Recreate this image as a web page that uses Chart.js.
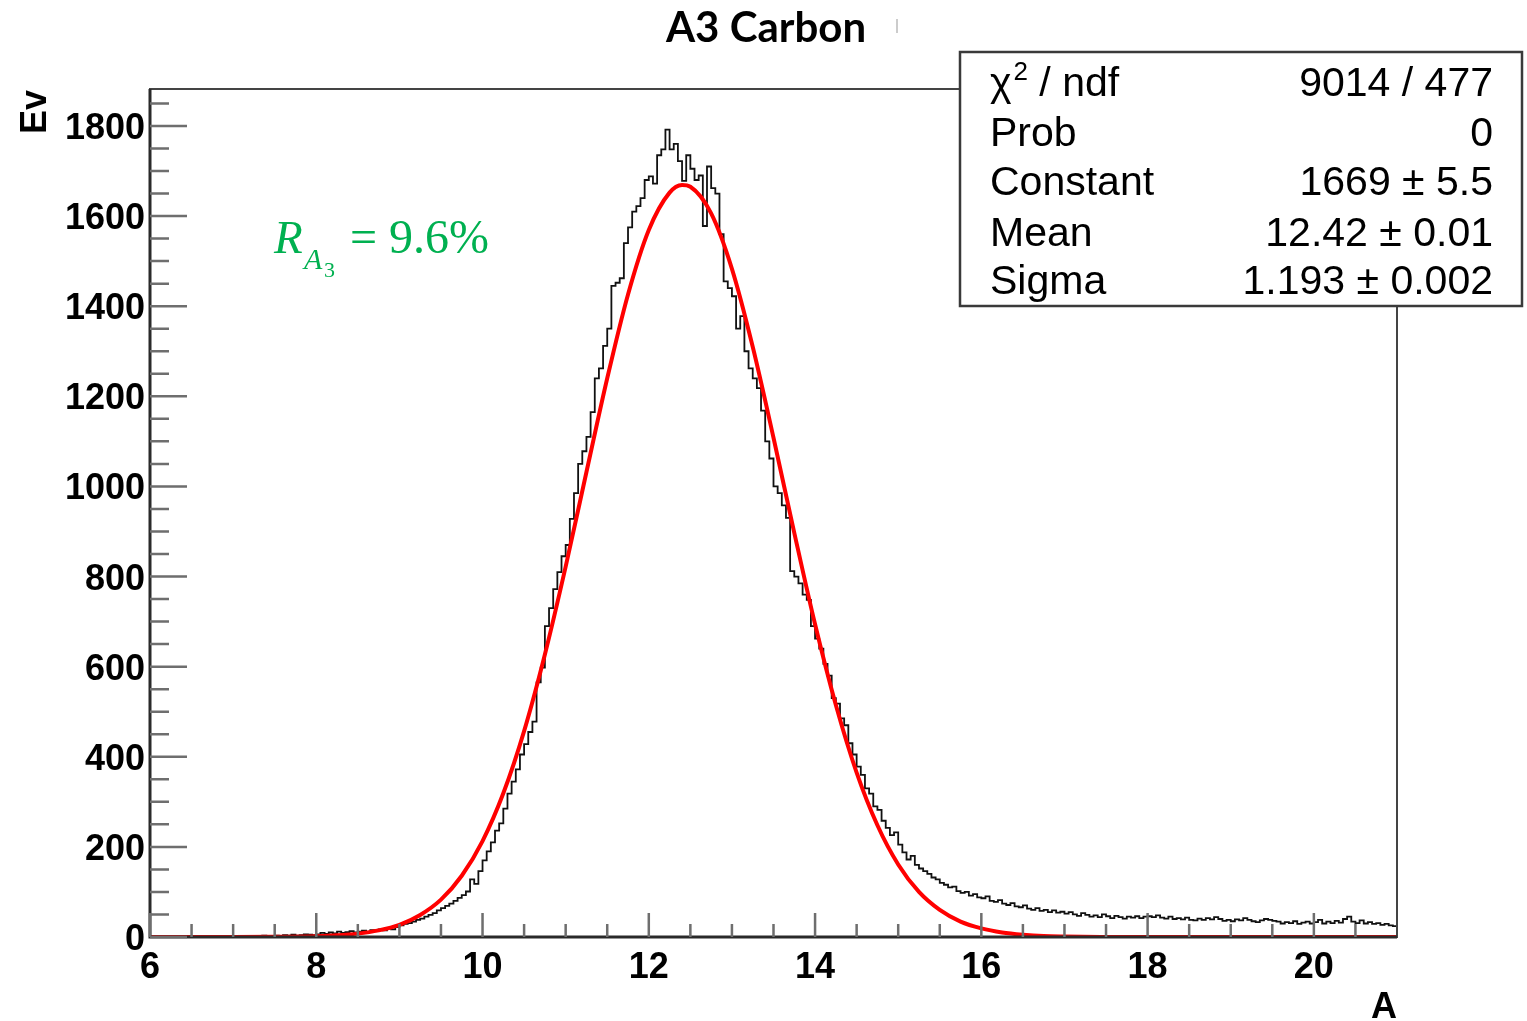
<!DOCTYPE html>
<html>
<head>
<meta charset="utf-8">
<title>A3 Carbon</title>
<script src="https://cdn.jsdelivr.net/npm/chart.js@4.4.1/dist/chart.umd.min.js"></script>
<style>
  html, body { margin: 0; padding: 0; background: #fff; }
</style>
</head>
<body>
<canvas id="plot" width="1527" height="1021"></canvas>
<script>
// --- Histogram: 300 bins of width 0.05 from A = 6 to A = 21 ---
const binLow = 6;
const binWidth = 0.05;
const counts = [
  0, 0, 0, 0, 0, 0, 0, 0, 1, 0, 0, 1, 0, 0, 1, 0, 1, 0, 1, 2,                                   // 6
  1, 0, 2, 1, 1, 2, 1, 3, 2, 2, 3, 2, 4, 3, 5, 3, 4, 6, 5, 4,                                   // 7
  6, 9, 7, 10, 8, 12, 9, 11, 13, 10, 12, 14, 11, 15, 13, 17, 15, 19, 17, 22,                    // 8
  26, 29, 31, 34, 38, 41, 45, 49, 53, 59, 64, 69, 74, 80, 87, 93, 101, 128, 118, 146,           // 9
  170, 190, 210, 236, 252, 285, 318, 345, 372, 405, 428, 455, 478, 565, 598, 690, 730, 772, 810, 845,          // 10
  870, 928, 985, 1050, 1078, 1110, 1165, 1240, 1262, 1312, 1350, 1445, 1452, 1462, 1540, 1575, 1610, 1622, 1640, 1680, // 11
  1688, 1672, 1735, 1748, 1792, 1748, 1760, 1722, 1678, 1735, 1705, 1680, 1690, 1578, 1710, 1662, 1650, 1560, 1455, 1440, // 12
  1422, 1350, 1378, 1300, 1262, 1240, 1218, 1168, 1100, 1062, 1000, 985, 958, 930, 812, 800, 785, 760, 748, 690,    // 13
  662, 640, 606, 580, 530, 518, 485, 470, 430, 405, 378, 360, 330, 318, 290, 282, 258, 242, 226, 232,              // 14
  205, 188, 172, 180, 160, 152, 146, 140, 132, 128, 120, 116, 110, 112, 102, 98, 100, 92, 95, 88,                  // 15
  86, 90, 80, 78, 82, 74, 71, 75, 68, 66, 70, 63, 60, 64, 58, 60, 55, 59, 54, 56,               // 16
  52, 55, 50, 47, 53, 49, 45, 48, 44, 50, 46, 42, 47, 44, 41, 45, 43, 46, 42, 45,               // 17
  46, 44, 48, 43, 41, 45, 40, 42, 39, 43, 38, 37, 41, 38, 42, 39, 44, 40, 36, 38,               // 18
  35, 39, 37, 42, 38, 35, 33, 37, 40, 38, 36, 34, 30, 33, 31, 35, 29, 32, 34, 30,               // 19
  33, 38, 30, 34, 31, 36, 32, 40, 45, 34, 31, 37, 30, 33, 29, 31, 27, 29, 26, 24                // 20
];

// --- Gaussian fit curve ---
const fitX = [6, 7, 7.5, 8, 8.25, 8.5, 8.75, 9, 9.25, 9.5, 9.75, 10, 10.25, 10.5, 10.75, 11, 11.25, 11.5, 11.75,
              12, 12.25, 12.4, 12.5, 12.75, 13, 13.25, 13.5, 13.75, 14, 14.25, 14.5, 14.75, 15, 15.25, 15.5,
              15.75, 16, 16.25, 16.5, 16.75, 17, 17.5, 18, 21];
const fitY = [0, 0, 0.3, 1.8, 3.7, 7.5, 14.7, 27, 49, 83, 136, 213, 319, 457, 627, 822, 1032, 1240, 1426,
              1569, 1652, 1669, 1665, 1606, 1483, 1310, 1108, 897, 694, 515, 365, 248, 161, 100, 60,
              34, 19, 10, 5, 2, 1, 0.2, 0, 0];

// --- Axes ---
const xMin = 6, xMax = 21;
const yMin = 0, yMax = 1882;
const xMajorTicks = [6, 8, 10, 12, 14, 16, 18, 20];
const xTickLabels = ['6', '8', '10', '12', '14', '16', '18', '20'];
const xMinorStep = 0.5;
const yMajorTicks = [0, 200, 400, 600, 800, 1000, 1200, 1400, 1600, 1800];
const yTickLabels = ['0', '200', '400', '600', '800', '1000', '1200', '1400', '1600', '1800'];
const yMinorStep = 50;

// --- Texts ---
const titleText = 'A3 Carbon';
const xTitle = 'A';
const yTitle = 'Ev';
const statNames = ['ndf', 'Prob', 'Constant', 'Mean', 'Sigma'];
const statValues = ['9014 / 477', '0', '1669 \u00B1 5.5', '12.42 \u00B1 0.01', '1.193 \u00B1 0.002'];
const resolutionValue = '= 9.6%';

// build the step line: one point per lower bin edge plus the last upper edge
const histPoints = counts.map((c, i) => ({ x: binLow + i * binWidth, y: c }));
histPoints.push({ x: binLow + counts.length * binWidth, y: counts[counts.length - 1] });
const fitPoints = fitX.map((x, i) => ({ x: x, y: fitY[i] }));

const sans = '"Liberation Sans", Arial, Helvetica, sans-serif';

// ROOT-like frame, inward ticks, labels, stats box and the annotation
const rootDecor = {
  id: 'rootDecor',
  afterDraw(chart) {
    const ctx = chart.ctx;
    const xs = chart.scales.x;
    const ys = chart.scales.y;
    const L = xs.getPixelForValue(xMin), R = xs.getPixelForValue(xMax);
    const B = ys.getPixelForValue(yMin), T = ys.getPixelForValue(yMax);
    ctx.save();

    // frame
    ctx.strokeStyle = '#444';
    ctx.lineWidth = 2;
    ctx.strokeRect(L, T, R - L, B - T);
    ctx.strokeStyle = '#2a2a2a';
    ctx.lineWidth = 3;
    ctx.beginPath();
    ctx.moveTo(L, T); ctx.lineTo(L, B); ctx.lineTo(R, B);
    ctx.stroke();

    // ticks
    ctx.strokeStyle = '#6e6e6e';
    ctx.lineWidth = 2.5;
    ctx.beginPath();
    for (let v = yMin; v <= yMax; v += yMinorStep) {
      const py = ys.getPixelForValue(v);
      const len = yMajorTicks.includes(v) ? 37 : 19;
      ctx.moveTo(L, py); ctx.lineTo(L + len, py);
    }
    for (let v = xMin; v < xMax; v += xMinorStep) {
      const px = xs.getPixelForValue(v);
      const len = xMajorTicks.includes(v) ? 24 : 13;
      ctx.moveTo(px, B); ctx.lineTo(px, B - len);
    }
    ctx.stroke();

    // tick labels
    ctx.fillStyle = '#000';
    ctx.font = 'bold 36px ' + sans;
    ctx.textAlign = 'right';
    ctx.textBaseline = 'alphabetic';
    yMajorTicks.forEach((v, i) => {
      ctx.fillText(yTickLabels[i], L - 5, ys.getPixelForValue(v) + 13);
    });
    ctx.textAlign = 'center';
    xMajorTicks.forEach((v, i) => {
      ctx.fillText(xTickLabels[i], xs.getPixelForValue(v), B + 41);
    });

    // axis titles
    ctx.textAlign = 'right';
    ctx.fillText(xTitle, R, 1018);
    ctx.save();
    ctx.translate(46, 112);
    ctx.rotate(-Math.PI / 2);
    ctx.textAlign = 'center';
    ctx.fillText(yTitle, 0, 0);
    ctx.restore();

    // stats box
    const bx = 960, by = 52, bw = 562, bh = 254;
    ctx.fillStyle = '#fff';
    ctx.fillRect(bx, by, bw, bh);
    ctx.strokeStyle = '#3a3a3a';
    ctx.lineWidth = 2.5;
    ctx.strokeRect(bx, by, bw, bh);

    ctx.fillStyle = '#000';
    const rows = [96, 146, 195, 246, 294];
    ctx.font = '41px ' + sans;
    ctx.textAlign = 'left';
    // chi^2 / ndf
    ctx.fillText('\u03C7', 990, rows[0]);
    let cx = 990 + ctx.measureText('\u03C7').width + 2;
    ctx.font = '26px ' + sans;
    ctx.fillText('2', cx, rows[0] - 16);
    cx += ctx.measureText('2').width;
    ctx.font = '41px ' + sans;
    ctx.fillText(' / ' + statNames[0], cx, rows[0]);
    for (let i = 1; i < statNames.length; i++) {
      ctx.fillText(statNames[i], 990, rows[i]);
    }
    ctx.textAlign = 'right';
    statValues.forEach((s, i) => ctx.fillText(s, 1493, rows[i]));

    // title
    ctx.textAlign = 'center';
    ctx.font = 'bold 42px Lato, "Open Sans", sans-serif';
    ctx.fillText(titleText, 766, 42);
    ctx.strokeStyle = '#bbb';
    ctx.lineWidth = 1.5;
    ctx.beginPath(); ctx.moveTo(897, 19); ctx.lineTo(897, 33); ctx.stroke();

    // resolution annotation
    ctx.fillStyle = '#00b050';
    ctx.textAlign = 'left';
    ctx.font = 'italic 47px "Liberation Serif", "DejaVu Serif", serif';
    ctx.fillText('R', 274, 253);
    ctx.font = 'italic 30px "Liberation Serif", "DejaVu Serif", serif';
    ctx.fillText('A', 304, 269);
    ctx.font = '22px "Liberation Serif", "DejaVu Serif", serif';
    ctx.fillText('3', 324, 277);
    ctx.font = '48px "Liberation Serif", "DejaVu Serif", serif';
    ctx.fillText(resolutionValue, 350, 253);

    ctx.restore();
  }
};

const chart = new Chart(document.getElementById('plot').getContext('2d'), {
  type: 'line',
  data: {
    datasets: [
      {
        label: 'fit',
        data: fitPoints,
        borderColor: '#ff0000',
        borderWidth: 4,
        pointRadius: 0,
        cubicInterpolationMode: 'monotone',
        fill: false,
        order: 1
      },
      {
        label: 'A3 Carbon',
        data: histPoints,
        borderColor: '#111',
        borderWidth: 1.8,
        pointRadius: 0,
        stepped: 'before',
        fill: false,
        order: 2
      }
    ]
  },
  options: {
    responsive: false,
    animation: false,
    events: [],
    layout: { padding: { left: 150, right: 130, top: 89, bottom: 84 } },
    plugins: { legend: { display: false }, tooltip: { enabled: false }, title: { display: false } },
    scales: {
      x: { type: 'linear', min: xMin, max: xMax, display: false },
      y: { type: 'linear', min: yMin, max: yMax, display: false }
    }
  },
  plugins: [rootDecor]
});
</script>
</body>
</html>
